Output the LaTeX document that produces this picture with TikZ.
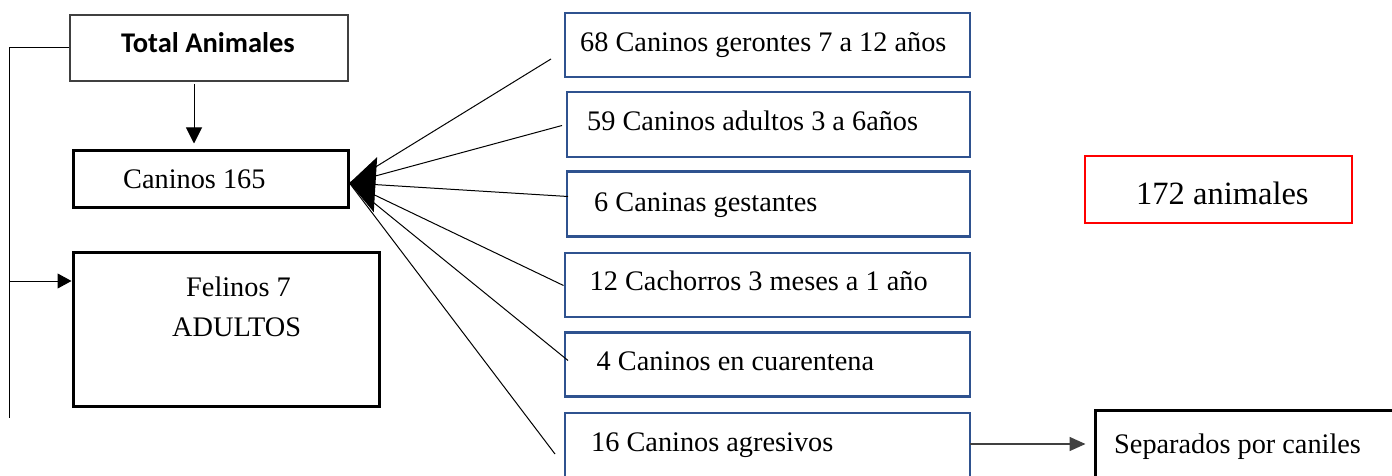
\documentclass[tikz,border=0pt]{standalone}
\usepackage{fontspec}
\setmainfont{Liberation Serif}
\newfontfamily\calibrifont{Carlito}
\usetikzlibrary{arrows.meta,calc}
\definecolor{boxblue}{RGB}{47,82,143}
\definecolor{darkline}{RGB}{64,64,64}
\begin{document}
\begin{tikzpicture}[x=1pt,y=-1pt,
  box/.style={draw, rectangle, inner sep=0pt},
  thinbox/.style={box, draw=darkline, line width=1.3pt},
  thickbox/.style={box, line width=3pt},
  bluebox/.style={box, draw=boxblue, line width=2.3pt},
  redbox/.style={box, draw=red, line width=2.6pt},
  lbl/.style={inner sep=0pt, anchor=base west, font=\fontsize{28.3}{34}\selectfont},
  conn/.style={line width=1pt},
  arr/.style={conn, -{Triangle[length=15pt,width=15pt]}},
]
\useasboundingbox (0,0) rectangle (1392,476);
\clip (0,0) rectangle (1392,476);

% left column
\node[thinbox, minimum width=278pt, minimum height=66pt] (tot) at (209,48) {};
\node[lbl, font=\calibrifont\bfseries\fontsize{28.5}{34}\selectfont] at (121,53) {Total Animales};
\node[thickbox, minimum width=275pt, minimum height=56pt] (can) at (210.5,179) {};
\node[lbl] at (123,188) {Caninos 165};
\node[thickbox, minimum width=306pt, minimum height=154pt] (fel) at (226,329) {};
\node[lbl] at (186,296) {Felinos 7};
\node[lbl] at (172,336) {ADULTOS};

% blue boxes
\node[bluebox, minimum width=405pt, minimum height=64pt] (b1) at (767.5,45) {};
\node[lbl] at (580,52) {68 Caninos gerontes 7 a 12 años};
\node[bluebox, minimum width=403pt, minimum height=65pt] (b2) at (768.5,124.5) {};
\node[lbl] at (587,131) {59 Caninos adultos 3 a 6años};
\node[bluebox, minimum width=403pt, minimum height=65pt] (b3) at (768.5,204) {};
\node[lbl] at (594,211.5) {6 Caninas gestantes};
\node[bluebox, minimum width=405pt, minimum height=64pt] (b4) at (767.5,285) {};
\node[lbl] at (589.5,290) {12 Cachorros 3 meses a 1 año};
\node[bluebox, minimum width=405pt, minimum height=64pt] (b5) at (767.5,364.5) {};
\node[lbl] at (596.5,370.5) {4 Caninos en cuarentena};
\node[bluebox, minimum width=405pt, minimum height=72pt] (b6) at (767.5,449) {};
\node[lbl] at (591,451) {16 Caninos agresivos};

% right side
\node[redbox, minimum width=267pt, minimum height=67pt] (tot2) at (1218.5,189.5) {};
\node[lbl, font=\fontsize{32.5}{38}\selectfont] at (1136,204) {172 animales};
\node[thickbox, minimum width=330pt, minimum height=100pt] (sep) at (1260,460) {};
\node[lbl] at (1114,453) {Separados por caniles};

% connectors on the left
\coordinate (c0) at (9,48);
\coordinate (c1) at (9,418);
\coordinate (c2) at (9,281);
\draw[conn] (tot.west) -- (c0) -- (c1);
\draw[arr, -{Triangle[length=14pt,width=15pt]}] (c2) -- (c2 -| fel.west);
\coordinate (d0) at (194,84);
\draw[arr, -{Triangle[length=16pt,width=16pt]}, shorten >=6pt] (d0) -- (d0 |- can.north);

% fan into Caninos
\coordinate (tip) at ([yshift=-4pt]can.east);
\coordinate (s1) at (551,59);
\coordinate (s2) at (562,125.5);
\coordinate (s3) at (568,196.5);
\coordinate (s4) at (563.5,285.5);
\coordinate (s5) at (568,360.5);
\coordinate (s6) at (555,454);
\draw[conn] (s1) -- (tip);
\draw[conn] (s2) -- (tip);
\draw[conn] (s4) -- (tip);
\draw[conn] (s5) -- (tip);
\draw[conn] (s6) -- (tip);
\draw[conn, -{Triangle[length=26pt,width=55pt]}] (s3) -- (tip);

% agresivos -> separados
\coordinate (r0) at (970,444);
\draw[conn, draw=darkline, line width=1.5pt, -{Triangle[length=16pt,width=14pt]}, shorten >=8pt] (r0) -- (r0 -| sep.west);
\end{tikzpicture}
\end{document}
